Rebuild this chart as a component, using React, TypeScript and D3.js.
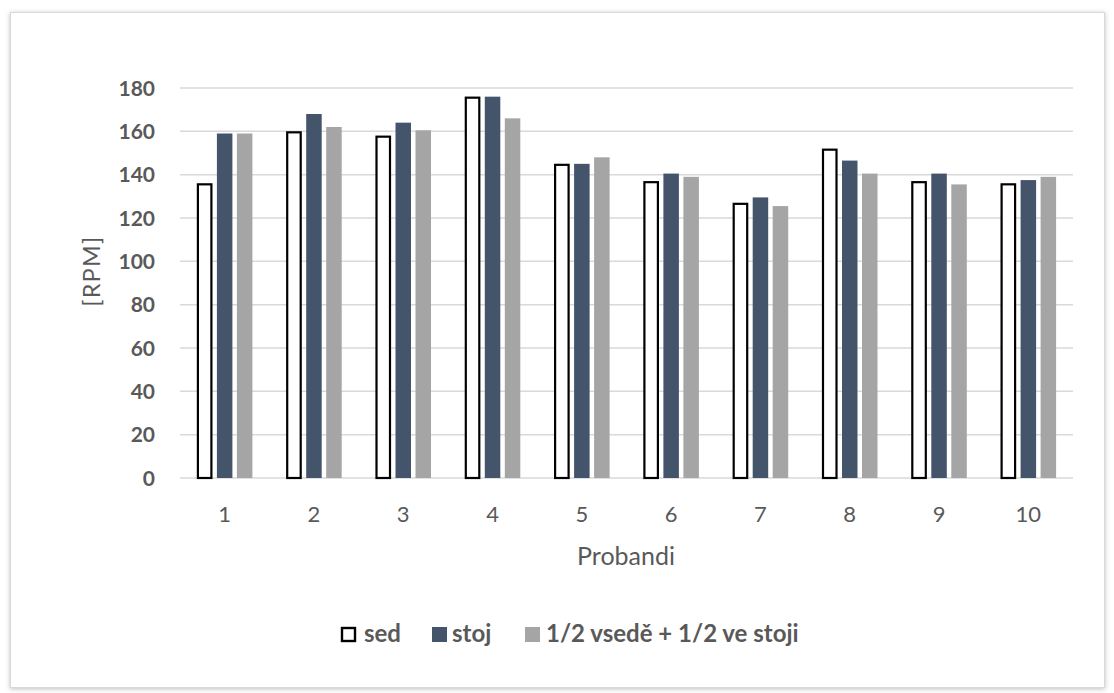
import React from "react";
import * as d3 from "d3";

const categories = ["1", "2", "3", "4", "5", "6", "7", "8", "9", "10"];
const sed = [136, 160, 158, 176, 145, 137, 127, 152, 137, 136];
const stoj = [159, 168, 164, 176, 145, 140.5, 129.5, 146.5, 140.5, 137.5];
const half = [159, 162, 160.5, 166, 148, 139, 125.5, 140.5, 135.5, 139];
const yTicks = [0, 20, 40, 60, 80, 100, 120, 140, 160, 180];
const seriesNames = ["sed", "stoj", "1/2 vsedě + 1/2 ve stoji"];

const W = 1114;
const H = 693;
const left = 180;
const right = 1073;
const top = 88;
const bottom = 478;

export default function App() {
  const x = d3.scaleBand<string>().domain(categories).range([left, right]);
  const y = d3.scaleLinear().domain([0, 180]).range([bottom, top]);
  const series = [
    { name: seriesNames[0], values: sed, fill: "#ffffff", stroke: "#000000" },
    { name: seriesNames[1], values: stoj, fill: "#44546A", stroke: "none" },
    { name: seriesNames[2], values: half, fill: "#A5A5A5", stroke: "none" },
  ];
  const barW = 15.5;
  const step = 20;
  const font = "Lato, 'Open Sans', sans-serif";
  const legendItems = [
    { x: 341, textX: 364 },
    { x: 432, textX: 452 },
    { x: 525, textX: 546 },
  ];
  return (
    <svg
      width={W}
      height={H}
      style={{ position: "absolute", left: 0, top: 0 }}
      fontFamily={font}
    >
      <defs>
        <filter id="sh" x="-5%" y="-5%" width="110%" height="110%">
          <feDropShadow dx="0" dy="1" stdDeviation="2.5" floodColor="#000" floodOpacity="0.25" />
        </filter>
      </defs>
      <rect x={0} y={0} width={W} height={H} fill="#ffffff" />
      <rect
        x={10.5}
        y={12.5}
        width={1094}
        height={675}
        fill="#ffffff"
        stroke="#d9d9d9"
        strokeWidth={1}
        filter="url(#sh)"
      />
      {yTicks.map((t) => (
        <g key={t}>
          <line x1={left} x2={right} y1={y(t)} y2={y(t)} stroke="#d9d9d9" strokeWidth={1.5} />
          <text
            x={155}
            y={y(t)}
            dy="0.36em"
            textAnchor="end"
            fontSize={21}
            fontWeight="bold"
            fill="#595959"
          >
            {t}
          </text>
        </g>
      ))}
      {series.map((s, si) =>
        s.values.map((v, i) => {
          const cx = (x(categories[i]) as number) + x.bandwidth() / 2 + (si - 1) * step;
          const isOutline = s.stroke !== "none";
          return (
            <rect
              key={si + "-" + i}
              x={cx - barW / 2 + (isOutline ? 1 : 0)}
              y={y(v) + (isOutline ? 1 : 0)}
              width={barW - (isOutline ? 2 : 0)}
              height={y(0) - y(v) - (isOutline ? 1 : 0)}
              fill={s.fill}
              stroke={s.stroke}
              strokeWidth={isOutline ? 2.2 : 0}
            />
          );
        })
      )}
      {categories.map((c) => (
        <text
          key={c}
          x={(x(c) as number) + x.bandwidth() / 2}
          y={522}
          textAnchor="middle"
          fontSize={22}
          fill="#595959"
        >
          {c}
        </text>
      ))}
      <text x={626} y={565} textAnchor="middle" fontSize={25} fill="#595959">
        Probandi
      </text>
      <text
        transform={`translate(100,271) rotate(-90)`}
        textAnchor="middle"
        fontSize={23}
        letterSpacing={1.5}
        fill="#595959"
      >
        [RPM]
      </text>
      {series.map((s, si) => (
        <g key={s.name}>
          <rect
            x={legendItems[si].x + (si === 0 ? 1 : 0)}
            y={627 + (si === 0 ? 1 : 0)}
            width={si === 0 ? 13 : 15}
            height={si === 0 ? 13 : 15}
            fill={s.fill}
            stroke={s.stroke}
            strokeWidth={si === 0 ? 2.4 : 0}
          />
          <text
            x={legendItems[si].textX}
            y={642}
            fontSize={24}
            fontWeight="bold"
            fill="#595959"
          >
            {s.name}
          </text>
        </g>
      ))}
    </svg>
  );
}
